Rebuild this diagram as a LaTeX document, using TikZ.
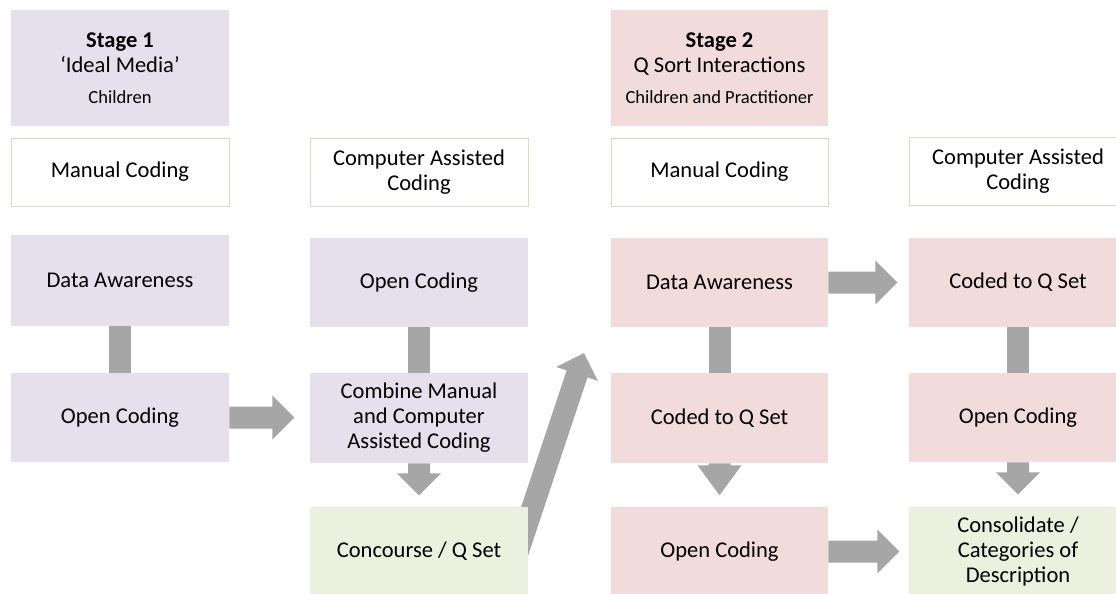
\documentclass[tikz,border=0pt]{standalone}
\usepackage{fontspec}
\setmainfont{Carlito}
\usetikzlibrary{calc,backgrounds}

\definecolor{lav}{HTML}{E5E0EC}
\definecolor{rose}{HTML}{F2DCDB}
\definecolor{sage}{HTML}{EBF1DE}
\definecolor{tan}{HTML}{DDD9C3}
\definecolor{flow}{HTML}{A6A6A6}

\tikzset{
  box/.style={minimum width=163.5pt, inner sep=0pt, align=center, text=black,
    font=\fontsize{16.9}{18.75}\selectfont},
  stagebox/.style={box, minimum height=87pt},
  headbox/.style={box, minimum height=51pt, fill=white, draw=tan, line width=0.75pt},
  rowbox/.style={box, minimum height=67pt},
  bar/.style={draw=flow, line width=16.5pt},
  flowarrow/.style={fill=flow},
}

% block arrow from #2 (tail) to #3 (tip); optional #1 = head length
\newcommand\blockarrow[3][16.5]{%
  \fill[flowarrow] let \p1=(#2), \p2=(#3),
      \n1={atan2(\y2-\y1,\x2-\x1)},
      \n2={veclen(\x2-\x1,\y2-\y1)-#1},
      \n3={veclen(\x2-\x1,\y2-\y1)} in
    [shift={(\p1)}, rotate=\n1]
    (0pt,-8.25pt) -- (\n2*1pt,-8.25pt) -- (\n2*1pt,-16.5pt) -- (\n3*1pt,0pt)
    -- (\n2*1pt,16.5pt) -- (\n2*1pt,8.25pt) -- (0pt,8.25pt) -- cycle;}

\begin{document}
\begin{tikzpicture}[x=0.75pt, y=-0.75pt]
\useasboundingbox (0,0) rectangle (1116,593);
\clip (0,0) rectangle (1116,593);

% stage headers
\node[stagebox, fill=lav] (s1) at (120,68)
  {{\bfseries Stage 1}\\‘Ideal Media’\\[4.5pt]{\fontsize{13.9}{18.75}\selectfont Children}};
\node[stagebox, fill=rose, minimum width=162.75pt] (s2) at (719.5,68)
  {{\bfseries Stage 2}\\Q Sort Interactions\\[4.5pt]{\fontsize{13.9}{18.75}\selectfont Children and Practitioner}};

% column headers
\node[headbox] (h1) at (120,172) {Manual Coding};
\node[headbox] (h2) at (419,172) {Computer Assisted\\Coding};
\node[headbox, minimum width=162.75pt] (h3) at (719.5,172) {Manual Coding};
\node[headbox] (h4) at (1018,171.5) {Computer Assisted\\Coding};

% first row
\node[rowbox, fill=lav, minimum height=68.25pt] (d1) at (120,280.5) {Data Awareness};
\node[rowbox, fill=lav] (p2) at (419,282.5) {Open Coding};
\node[rowbox, fill=rose, minimum width=162.75pt] (d3) at (719.5,282.5) {Data Awareness};
\node[rowbox, fill=rose] (q4) at (1018,282.5) {Coded to Q Set};

% second row
\node[rowbox, fill=lav] (o1) at (120,417.5) {Open Coding};
\node[rowbox, fill=lav, minimum height=67.5pt] (cm2) at (419,418) {Combine Manual\\and Computer\\Assisted Coding};
\node[rowbox, fill=rose, minimum width=162.75pt, minimum height=67.5pt] (q3) at (719.5,418) {Coded to Q Set};
\node[rowbox, fill=rose] (o4) at (1018,417.5) {Open Coding};

% third row
\node[rowbox, fill=sage] (cq2) at (419,551.5) {Concourse / Q Set};
\node[rowbox, fill=rose, minimum width=162.75pt] (o3) at (719.5,551.5) {Open Coding};
\node[rowbox, fill=sage] (cd4) at (1018,551.5) {Consolidate /\\Categories of\\Description};

% links drawn behind the boxes
\coordinate (qtail) at (511,572);
\coordinate (qtip) at (584,353);
\begin{pgfonlayer}{background}
  \draw[bar] (d1) -- (o1);
  \draw[bar] (p2) -- (cm2);
  \draw[bar] (d3) -- (q3);
  \draw[bar] (q4) -- (o4);
  \blockarrow{qtail}{qtip}
\end{pgfonlayer}

% block arrows between boxes
\blockarrow{o1.east}{$(o1.east)+(65,0)$}
\blockarrow{d3.east}{$(d3.east)+(69,0)$}
\blockarrow{o3.east}{$(o3.east)+(71,0)$}
\blockarrow{cm2.south}{$(cm2.south)+(0,32)$}
\blockarrow[22.5]{q3.south}{$(q3.south)+(0,32)$}
\blockarrow{o4.south}{$(o4.south)+(0,32)$}
\end{tikzpicture}
\end{document}
